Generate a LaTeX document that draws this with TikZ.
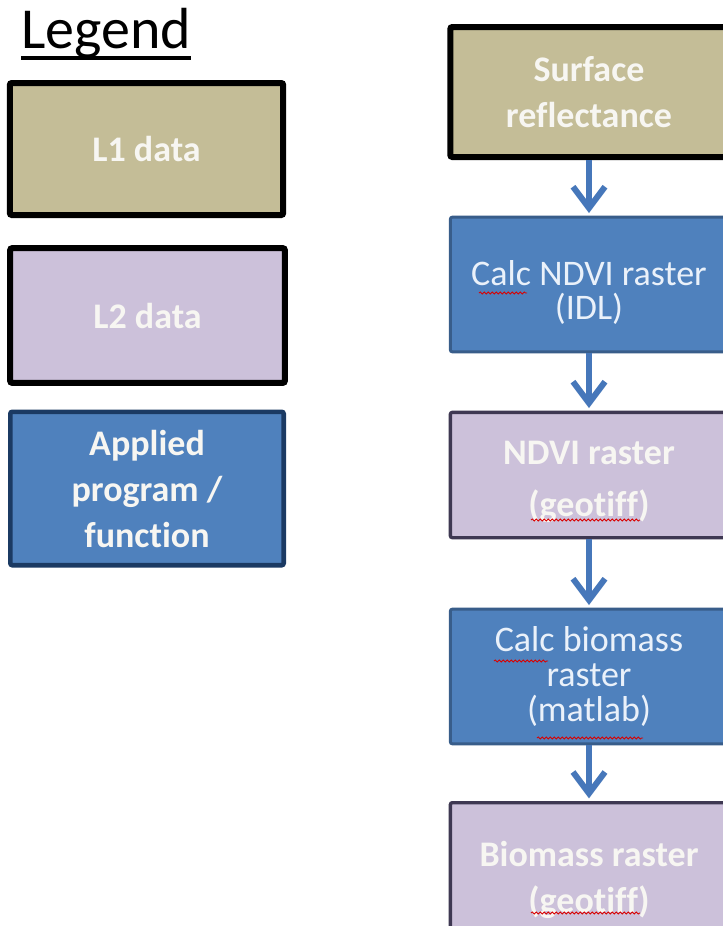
\documentclass[tikz,border=0pt]{standalone}
\usepackage{fontspec}
\setmainfont{Carlito}[Ligatures=NoCommon]
\usetikzlibrary{arrows.meta,decorations.pathmorphing}
\definecolor{tanfill}{HTML}{C4BD97}
\definecolor{lavfill}{HTML}{CCC1DA}
\definecolor{bluefill}{HTML}{4F81BD}
\definecolor{blueedge}{HTML}{385D8A}
\definecolor{navyedge}{HTML}{1B3A63}
\definecolor{lavedge}{HTML}{3E3852}
\definecolor{arrowblue}{HTML}{4677BA}
\definecolor{boldtext}{HTML}{F7F6F2}
\definecolor{regtext}{HTML}{EAF1FA}
\tikzset{
  box/.style={rectangle, rounded corners=1.5pt, minimum width=204pt, align=center, inner sep=0pt},
  boldlbl/.style={font=\fontsize{27}{34.5}\selectfont\bfseries, text=boldtext, align=center},
  reglbl/.style={font=\fontsize{27}{26}\selectfont, text=regtext, align=center},
  lone/.style={box, boldlbl, fill=tanfill, draw=black, line width=4.5pt},
  ltwo/.style={box, boldlbl, fill=lavfill, draw=black, line width=4.5pt},
  lprog/.style={box, boldlbl, fill=bluefill, draw=navyedge, line width=3.5pt},
  surf/.style={box, boldlbl, fill=tanfill, draw=black, line width=4.5pt},
  prog/.style={box, reglbl, fill=bluefill, draw=blueedge, line width=2.2pt},
  ltwodata/.style={box, boldlbl, fill=lavfill, draw=lavedge, line width=2.5pt},
  flow/.style={draw=arrowblue, line width=4.5pt, -{Straight Barb[length=16pt,width=24pt]}, shorten >=2pt},
  squiggle/.style={draw=red!85!black, line width=0.6pt, decorate, decoration={snake, amplitude=0.8pt, segment length=3pt}}
}
\begin{document}
\begin{tikzpicture}[x=0.75pt, y=-0.75pt]
\clip (0,0) rectangle (723,926);
\fill[white] (0,0) rectangle (723,926);
% Legend
\node[anchor=base west, inner sep=0pt, font=\fontsize{43.5}{43.5}\selectfont] (legend) at (21,48) {Legend};
\draw[line width=2.3pt] ([yshift=-7.5pt]legend.base west) -- ([yshift=-7.5pt]legend.base east);
\node[lone, minimum width=205pt, minimum height=99pt] (l1) at (146.5,149) {L1 data};
\node[ltwo, minimum width=206pt, minimum height=101pt] (l2) at (147.5,315.5) {L2 data};
\node[lprog, minimum width=205pt, minimum height=115pt] (lp) at (147,488.5) {Applied\\program /\\function};
% Flow
\node[surf, minimum width=208pt, minimum height=97.5pt] (sr) at (589,92) {Surface\\reflectance};
\node[prog, minimum width=208pt, minimum height=101pt] (cn) at (589,284.5) {};
\node[reglbl] (cnt) at ([yshift=-6pt]cn.center) {Calc NDVI raster\\(IDL)};
\node[ltwodata, minimum width=208pt, minimum height=94pt] (nr) at (589,475) {};
\node[boldlbl, font=\fontsize{27}{39}\selectfont\bfseries] (nrt) at ([yshift=-5pt]nr.center) {NDVI raster\\(geotiff)};
\node[prog, minimum width=208pt, minimum height=101pt] (cb) at (589,676.5) {Calc biomass\\raster\\(matlab)};
\node[ltwodata, minimum width=208pt, minimum height=116pt] (br) at (589,880) {Biomass raster\\(geotiff)};
\draw[flow] (sr.south) -- (cn.north);
\draw[flow] (cn.south) -- (nr.north);
\draw[flow] (nr.south) -- (cb.north);
\draw[flow] (cb.south) -- (br.north);
% spell-check squiggles
\draw[squiggle] (479,293) -- (527,293);
\draw[squiggle] (531,520) -- (640,520);
\draw[squiggle] (494,661) -- (548,661);
\draw[squiggle] (537,738) -- (643,738);
\draw[squiggle] (531,913) -- (640,913);
\end{tikzpicture}
\end{document}
